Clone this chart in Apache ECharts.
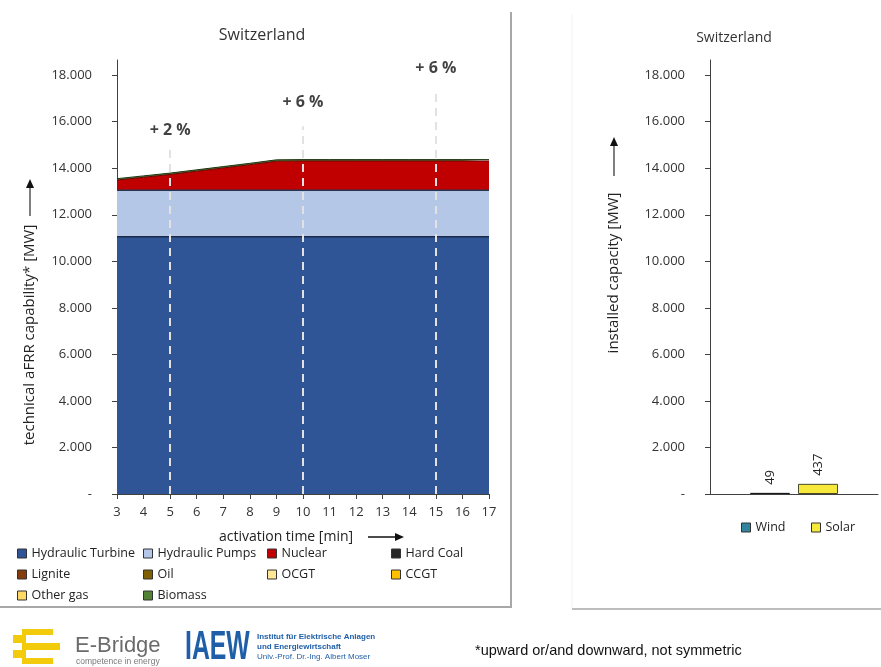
<!DOCTYPE html>
<html><head><meta charset="utf-8">
<script src="https://cdn.jsdelivr.net/npm/echarts@6/dist/echarts.min.js"></script>
<style>html,body{margin:0;padding:0;background:#fff}#c{width:881px;height:667px}</style>
</head><body><div id="c"></div>
<script>
// ---- data ----
const times = [3,4,5,6,7,8,9,10,11,12,13,14,15,16,17];
const hydraulicTurbine = [11050,11050,11050,11050,11050,11050,11050,11050,11050,11050,11050,11050,11050,11050,11050];
const hydraulicPumps   = [2000,2000,2000,2000,2000,2000,2000,2000,2000,2000,2000,2000,2000,2000,2000];
const nuclear          = [440,560,680,820,960,1100,1250,1260,1260,1260,1260,1260,1260,1260,1260];
const hardCoal         = [0,0,0,0,0,0,0,0,0,0,0,0,0,0,0];
const lignite          = [0,0,0,0,0,0,0,0,0,0,0,0,0,0,0];
const oil              = [0,0,0,0,0,0,0,0,0,0,0,0,0,0,0];
const ocgt             = [0,0,0,0,0,0,0,0,0,0,0,0,0,0,0];
const ccgt             = [0,0,0,0,0,0,0,0,0,0,0,0,0,0,0];
const otherGas         = [0,0,0,0,0,0,0,0,0,0,0,0,0,0,0];
const biomass          = [60,60,60,60,60,60,60,60,60,60,60,60,60,60,60];
const annotTimes  = [5,10,15];
const annotTexts  = ['+ 2 %','+ 6 %','+ 6 %'];
const annotLabelY = [15640,16840,18300];
const annotLineTop= [14800,15800,17400];
const yTicks = [0,2000,4000,6000,8000,10000,12000,14000,16000,18000];
const resCategories = [''];
const windCap = [49];
const solarCap = [437];

const names = ['Hydraulic Turbine','Hydraulic Pumps','Nuclear','Hard Coal','Lignite','Oil','OCGT','CCGT','Other gas','Biomass'];
const values = [hydraulicTurbine,hydraulicPumps,nuclear,hardCoal,lignite,oil,ocgt,ccgt,otherGas,biomass];
const colors = ['#2f5597','#b4c7e7','#c00000','#262626','#843c0c','#7f6000','#ffe699','#ffc000','#ffd966','#548235'];
const lineCols = ['#1c2a48','#2a3550','#6a0000',null,null,null,null,null,null,'#1d3512'];

const FONT = 'Open Sans';
const fmtY = v => v === 0 ? '-' : (v/1000) + '.000';
const timeCats = times.map(String);

const series = values.map((arr, i) => ({
  name: names[i], type: 'line', stack: 'cap', xAxisIndex: 0, yAxisIndex: 0,
  symbol: 'none', showSymbol: false,
  data: arr,
  lineStyle: lineCols[i] ? {color: lineCols[i], width: i < 2 ? 1.5 : 1} : {width: 0},
  itemStyle: {color: colors[i], borderColor: '#222', borderWidth: 1},
  areaStyle: {color: colors[i], opacity: 1}
}));
series[series.length-1].markLine = {
  silent: true, symbol: 'none', animation: false,
  label: {show: false},
  lineStyle: {color: '#e2e2e2', type: [8,6], width: 2},
  data: annotTimes.map((t, i) => [{coord: [String(t), 0]}, {coord: [String(t), annotLineTop[i]]}])
};
series.push({
  type: 'scatter', xAxisIndex: 0, yAxisIndex: 0, symbolSize: 1,
  itemStyle: {color: 'rgba(0,0,0,0)'}, silent: true, z: 10,
  data: annotTimes.map((t, i) => [String(t), annotLabelY[i]]),
  label: {show: true, position: 'inside', formatter: p => annotTexts[p.dataIndex],
          fontFamily: FONT, fontWeight: 'bold', fontSize: 16, color: '#111'}
});
series.push({
  name: 'Wind', type: 'bar', xAxisIndex: 1, yAxisIndex: 1, data: windCap, barWidth: 40, barGap: '20%',
  itemStyle: {color: '#31849b', borderColor: '#1a1a1a', borderWidth: 1},
  label: {show: true, position: 'top', rotate: 90, align: 'left', verticalAlign: 'middle', distance: 8,
          fontFamily: FONT, fontSize: 13, color: '#222'}
});
series.push({
  name: 'Solar', type: 'bar', xAxisIndex: 1, yAxisIndex: 1, data: solarCap, barWidth: 40, barGap: '20%',
  itemStyle: {color: '#f7e83c', borderColor: '#4a4a2a', borderWidth: 1},
  label: {show: true, position: 'top', rotate: 90, align: 'left', verticalAlign: 'middle', distance: 8,
          fontFamily: FONT, fontSize: 13, color: '#222'}
});

// legend positions
const legPos = [[17,555],[143,555],[267,555],[391,555],[17,576],[143,576],[267,576],[391,576],[17,597],[143,597]];
const legends = names.map((n, i) => ({
  data: [n], left: legPos[i][0], top: legPos[i][1] - 8, padding: 0, itemWidth: 9, itemHeight: 9,
  icon: 'rect', itemStyle: {borderColor: '#333', borderWidth: 1}, selectedMode: false,
  textStyle: {fontFamily: FONT, fontSize: 12.5, color: '#222'}
}));
legends.push({data: ['Wind'], left: 741, top: 521, padding: 0, itemWidth: 9, itemHeight: 9, icon: 'rect',
  itemStyle: {borderColor: '#333', borderWidth: 1}, selectedMode: false,
  textStyle: {fontFamily: FONT, fontSize: 12.5, color: '#222'}});
legends.push({data: ['Solar'], left: 811, top: 521, padding: 0, itemWidth: 9, itemHeight: 9, icon: 'rect',
  itemStyle: {borderColor: '#333', borderWidth: 1}, selectedMode: false,
  textStyle: {fontFamily: FONT, fontSize: 12.5, color: '#222'}});

const yAxisCommon = {
  type: 'value', min: 0, max: 18650, interval: 2000,
  axisLine: {show: true, lineStyle: {color: '#404040', width: 1}},
  axisTick: {show: true, length: 5, lineStyle: {color: '#404040'}, customValues: yTicks},
  axisLabel: {customValues: yTicks, formatter: fmtY, fontFamily: FONT, fontSize: 13, color: '#333', margin: 25},
  splitLine: {show: false}
};

const chart = echarts.init(document.getElementById('c'), null, {renderer: 'canvas'});
chart.setOption({
  animation: false,
  backgroundColor: '#fff',
  grid: [
    {left: 117, top: 60, width: 372, height: 434},
    {left: 710, top: 60, width: 168, height: 434}
  ],
  xAxis: [
    {type: 'category', gridIndex: 0, data: timeCats, boundaryGap: false,
     axisLine: {lineStyle: {color: '#404040'}}, axisTick: {length: 5, lineStyle: {color: '#404040'}},
     axisLabel: {fontFamily: FONT, fontSize: 13, color: '#333', margin: 12, interval: 0}, splitLine: {show: false}},
    {type: 'category', gridIndex: 1, data: resCategories,
     axisLine: {lineStyle: {color: '#404040'}}, axisTick: {length: 5, lineStyle: {color: '#404040'}},
     axisLabel: {show: false}}
  ],
  yAxis: [Object.assign({gridIndex: 0}, yAxisCommon), Object.assign({gridIndex: 1}, yAxisCommon)],
  legend: legends,
  series: series,
  graphic: [
    // panel frames
    {type: 'line', shape: {x1: 511, y1: 12, x2: 511, y2: 607}, style: {stroke: '#a8a8a8', lineWidth: 2}},
    {type: 'line', shape: {x1: 0, y1: 607, x2: 512, y2: 607}, style: {stroke: '#a8a8a8', lineWidth: 2}},
    {type: 'line', shape: {x1: 572, y1: 14, x2: 572, y2: 609}, style: {stroke: '#f2f2f2', lineWidth: 1}},
    {type: 'line', shape: {x1: 572, y1: 609, x2: 881, y2: 609}, style: {stroke: '#bdbdbd', lineWidth: 2}},
    // titles
    {type: 'text', x: 262, y: 35, style: {text: 'Switzerland', font: '16px "Open Sans"', fill: '#333', textAlign: 'center', textVerticalAlign: 'middle'}},
    {type: 'text', x: 734, y: 38, style: {text: 'Switzerland', font: '14px "Open Sans"', fill: '#333', textAlign: 'center', textVerticalAlign: 'middle'}},
    // left y axis name + arrow
    {type: 'text', x: 30, y: 335, rotation: Math.PI/2, style: {text: 'technical aFRR capability* [MW]', font: '15px "Open Sans"', fill: '#222', textAlign: 'center', textVerticalAlign: 'middle'}},
    {type: 'line', shape: {x1: 30, y1: 216, x2: 30, y2: 186}, style: {stroke: '#555', lineWidth: 1.5}},
    {type: 'polygon', shape: {points: [[26,188],[34,188],[30,179]]}, style: {fill: '#111'}},
    // right y axis name + arrow
    {type: 'text', x: 614, y: 273, rotation: Math.PI/2, style: {text: 'installed capacity [MW]', font: '15px "Open Sans"', fill: '#222', textAlign: 'center', textVerticalAlign: 'middle'}},
    {type: 'line', shape: {x1: 614, y1: 176, x2: 614, y2: 144}, style: {stroke: '#555', lineWidth: 1.5}},
    {type: 'polygon', shape: {points: [[610,146],[618,146],[614,137]]}, style: {fill: '#111'}},
    // x axis name + arrow
    {type: 'text', x: 286, y: 537, style: {text: 'activation time [min]', font: '14px "Open Sans"', fill: '#222', textAlign: 'center', textVerticalAlign: 'middle'}},
    {type: 'line', shape: {x1: 368, y1: 537, x2: 397, y2: 537}, style: {stroke: '#111', lineWidth: 1.5}},
    {type: 'polygon', shape: {points: [[395,533],[395,541],[404,537]]}, style: {fill: '#111'}},
    // footnote
    {type: 'text', x: 475, y: 651, style: {text: '*upward or/and downward, not symmetric', font: '14.5px "Liberation Sans Narrow", "Liberation Sans", sans-serif', fill: '#111', textAlign: 'left', textVerticalAlign: 'middle'}},
    // E-Bridge logo
    {type: 'rect', shape: {x: 22, y: 629, width: 31, height: 6}, style: {fill: '#f2cc0c'}},
    {type: 'rect', shape: {x: 13, y: 635, width: 13, height: 8}, style: {fill: '#f2cc0c'}},
    {type: 'rect', shape: {x: 22, y: 643, width: 38, height: 7}, style: {fill: '#f2cc0c'}},
    {type: 'rect', shape: {x: 13, y: 650, width: 13, height: 8}, style: {fill: '#f2cc0c'}},
    {type: 'rect', shape: {x: 22, y: 658, width: 31, height: 6}, style: {fill: '#f2cc0c'}},
    {type: 'text', x: 75, y: 646, style: {text: 'E-Bridge', font: '22px "Liberation Sans", sans-serif', fill: '#6b6b6b', textAlign: 'left', textVerticalAlign: 'middle'}},
    {type: 'text', x: 76, y: 662, style: {text: 'competence in energy', font: '8.5px "Liberation Sans", sans-serif', fill: '#7a7a7a', textAlign: 'left', textVerticalAlign: 'middle'}},
    // IAEW logo
    {type: 'text', x: 185, y: 648, scaleX: 0.62, style: {text: 'IAEW', font: 'bold 40px "Liberation Sans", sans-serif', fill: '#1f5fa8', textAlign: 'left', textVerticalAlign: 'middle'}},
    {type: 'text', x: 257, y: 637, style: {text: 'Institut für Elektrische Anlagen', font: 'bold 8px "Liberation Sans", sans-serif', fill: '#1f5fa8', textAlign: 'left', textVerticalAlign: 'middle'}},
    {type: 'text', x: 257, y: 647, style: {text: 'und Energiewirtschaft', font: 'bold 8px "Liberation Sans", sans-serif', fill: '#1f5fa8', textAlign: 'left', textVerticalAlign: 'middle'}},
    {type: 'text', x: 257, y: 657, style: {text: 'Univ.-Prof. Dr.-Ing. Albert Moser', font: '8px "Liberation Sans", sans-serif', fill: '#1f5fa8', textAlign: 'left', textVerticalAlign: 'middle'}}
  ]
});
</script></body></html>
